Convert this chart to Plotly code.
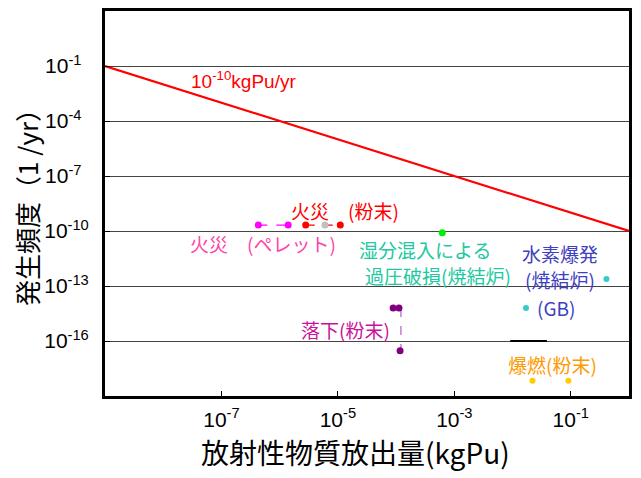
import plotly.graph_objects as go

# ---- data ----
y_ticks = [-1, -4, -7, -10, -13, -16]
x_ticks = [-7, -5, -3, -1]
line_x = [1e-9, 1e0]
limit = 1e-10  # kgPu/yr

fire_pellet_x = [4.3e-7, 1.4e-6]
fire_pellet_y = [2.1e-10, 2.1e-10]
fire_powder_x = [2.8e-6, 6.0e-6, 1.1e-5]
fire_powder_y = [2.1e-10, 2.1e-10, 2.1e-10]
moist_x = [6.2e-4]
moist_y = [8e-11]
drop_top_x = [8.9e-5, 1.12e-4]
drop_top_y = [6.3e-15, 6.3e-15]
drop_bot_x = [1.17e-4]
drop_bot_y = [2.9e-17]
h2_x = [0.41, 0.017]
h2_y = [2.4e-13, 6.3e-15]
defl_x = [0.022, 0.091]
defl_y = [6.8e-19, 6.8e-19]
seg_x = [10**-2.04, 10**-1.41]
seg_y = [1e-16, 1e-16]

jp = "Noto Sans CJK JP"
lat = "Liberation Sans"

fig = go.Figure()

fig.add_trace(go.Scatter(x=line_x, y=[limit / v for v in line_x], mode="lines",
                         line=dict(color="#ff0000", width=2.2), showlegend=False))
fig.add_trace(go.Scatter(x=seg_x, y=seg_y, mode="lines",
                         line=dict(color="#000000", width=2), showlegend=False))
fig.add_trace(go.Scatter(x=fire_pellet_x, y=fire_pellet_y, mode="lines",
                         line=dict(color="#ff00ff", width=1.2, dash="dash"), showlegend=False))
fig.add_trace(go.Scatter(x=fire_pellet_x, y=fire_pellet_y, mode="markers",
                         marker=dict(color="#ff00ff", size=7), showlegend=False))
fig.add_trace(go.Scatter(x=fire_powder_x, y=fire_powder_y, mode="lines",
                         line=dict(color="#ff0000", width=1.2, dash="dash"), showlegend=False))
fig.add_trace(go.Scatter(x=fire_powder_x, y=fire_powder_y, mode="markers",
                         marker=dict(color=["#ff0000", "#c0c0c0", "#ff0000"], size=7), showlegend=False))
fig.add_trace(go.Scatter(x=moist_x, y=moist_y, mode="markers",
                         marker=dict(color="#00ee00", size=7), showlegend=False))
fig.add_trace(go.Scatter(x=[drop_top_x[1] * 1.08, drop_top_x[1] * 1.08], y=[drop_top_y[1], drop_bot_y[0]],
                         mode="lines", line=dict(color="#b060c0", width=1.2, dash="dash"), showlegend=False))
fig.add_trace(go.Scatter(x=drop_top_x + drop_bot_x, y=drop_top_y + drop_bot_y, mode="markers",
                         marker=dict(color="#800080", size=7), showlegend=False))
fig.add_trace(go.Scatter(x=h2_x, y=h2_y, mode="markers",
                         marker=dict(color="#33cccc", size=6), showlegend=False))
fig.add_trace(go.Scatter(x=defl_x, y=defl_y, mode="markers",
                         marker=dict(color="#ffcc00", size=6), showlegend=False))

# page has an 8px body margin; figure is sized to fit the window
OFF = 8
W, H = 641 - OFF, 478 - OFF
L, R, T, B = 105, 629, 11, 396   # plot frame in window pixels

def px(x, y):
    return (x - L) / (R - L), (B - y) / (B - T)

def ann(x, y, text, color, size=19, family=jp, angle=0):
    xx, yy = px(x, y)
    fig.add_annotation(x=xx, y=yy, xref="paper", yref="paper", text=text, showarrow=False,
                       font=dict(family=family, size=size, color=color), textangle=angle,
                       xanchor="center", yanchor="middle")

ann(243, 80, "10<sup>-10</sup>kgPu/yr", "#ff0000", size=19, family=lat)
for (x, y, t, c) in [
    (345, 211, "火災　(粉末)", "#ff0000"),
    (263, 243, "火災　(ペレット)", "#ff44aa"),
    (425, 249, "湿分混入による", "#22c8a0"),
    (438, 275, "過圧破損(焼結炉)", "#22c8a0"),
    (560, 253, "水素爆発", "#4040c0"),
    (560, 279, "(焼結炉)", "#4040c0"),
    (556, 307, "(GB)", "#4040c0"),
    (345, 329, "落下(粉末)", "#cc1199"),
    (552, 364, "爆燃(粉末)", "#ff9900"),
]:
    ann(x, y, t, c)

# axis titles
ann(355, 452, "放射性物質放出量(kgPu)", "#000000", size=28)
ann(26, 201, "発生頻度（1 /yr）", "#000000", size=26, angle=-90)

def ylab(v):
    pad = "\u2002" * (3 - len(str(v)))
    return f"10<sup>{v}{pad}</sup>"

fig.update_layout(
    width=W, height=H,
    margin=dict(l=L - OFF, r=W - (R - OFF), t=T - OFF, b=H - (B - OFF)),
    paper_bgcolor="white", plot_bgcolor="white",
    xaxis=dict(type="log", range=[-9, 0], tickvals=[10.0**v for v in x_ticks],
               ticktext=[f"10<sup>{v}</sup>" for v in x_ticks],
               tickfont=dict(family=lat, size=21, color="#000"),
               ticks="inside", ticklen=5, tickcolor="#000", showgrid=False,
               ticklabelstandoff=3, automargin=False,
               showline=True, linecolor="#000", linewidth=3, mirror=True),
    yaxis=dict(type="log", range=[-19, 2], tickvals=[10.0**v for v in y_ticks],
               ticktext=[ylab(v) for v in y_ticks],
               tickfont=dict(family=lat, size=21, color="#000"),
               ticks="inside", ticklen=5, tickcolor="#000",
               ticklabelstandoff=9, automargin=False,
               showgrid=True, gridcolor="#444", gridwidth=1,
               showline=True, linecolor="#000", linewidth=3, mirror=True),
)

fig.write_html("out.html")
